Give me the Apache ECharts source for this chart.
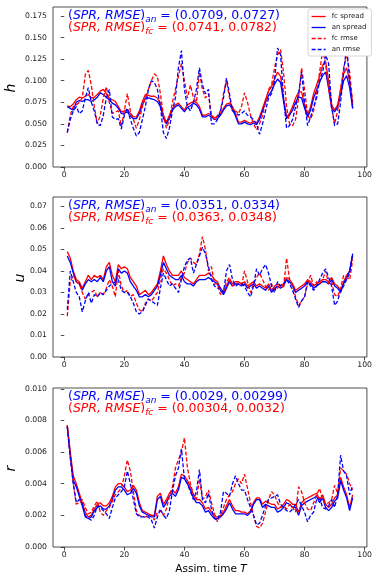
<!DOCTYPE html>
<html>
<head>
<meta charset="utf-8">
<script src="https://cdn.jsdelivr.net/npm/echarts@6/dist/echarts.min.js"></script>
<style>
  html, body { margin: 0; padding: 0; background: #fff; }
  #chart { width: 375px; height: 574px; }
</style>
</head>
<body>
<div id="chart"></div>
<script>
// Assimilation cycles 1..96
const assimTimes = Array.from({ length: 96 }, (_, i) => i + 1);

// Tick positions
const xTicks = [0, 20, 40, 60, 80, 100];
const hTicks = [0, 0.025, 0.05, 0.075, 0.1, 0.125, 0.15, 0.175];
const uTicks = [0, 0.01, 0.02, 0.03, 0.04, 0.05, 0.06, 0.07];
const rTicks = [0, 0.002, 0.004, 0.006, 0.008, 0.01];

// Time-mean (spread, rmse) for analysis and forecast
const hScoresAn = ['0.0709', '0.0727'];
const hScoresFc = ['0.0741', '0.0782'];
const uScoresAn = ['0.0351', '0.0334'];
const uScoresFc = ['0.0363', '0.0348'];
const rScoresAn = ['0.0029', '0.00299'];
const rScoresFc = ['0.00304', '0.0032'];

// ---- h ----
const hFcSpread = [
  0.071, 0.070, 0.073, 0.078, 0.081, 0.080, 0.082, 0.084, 0.080, 0.081,
  0.084, 0.088, 0.090, 0.085, 0.080, 0.078, 0.076, 0.070, 0.064, 0.065,
  0.067, 0.062, 0.058, 0.058, 0.065, 0.076, 0.084, 0.083, 0.082, 0.082,
  0.080, 0.074, 0.060, 0.052, 0.060, 0.068, 0.072, 0.074, 0.070, 0.066,
  0.072, 0.074, 0.076, 0.075, 0.070, 0.060, 0.060, 0.062, 0.060, 0.057,
  0.058, 0.062, 0.068, 0.073, 0.074, 0.070, 0.062, 0.052, 0.052, 0.054,
  0.052, 0.051, 0.053, 0.051, 0.058, 0.068, 0.078, 0.088, 0.093, 0.102,
  0.110, 0.105, 0.080, 0.058, 0.062, 0.070, 0.080, 0.087, 0.087, 0.072,
  0.060, 0.070, 0.085, 0.095, 0.105, 0.118, 0.122, 0.100, 0.072, 0.066,
  0.072, 0.090, 0.108, 0.115, 0.100, 0.072
];
const hAnSpread = [
  0.070, 0.068, 0.066, 0.075, 0.077, 0.076, 0.078, 0.078, 0.076, 0.078,
  0.081, 0.086, 0.084, 0.081, 0.078, 0.074, 0.072, 0.068, 0.062, 0.062,
  0.064, 0.059, 0.056, 0.056, 0.062, 0.072, 0.080, 0.080, 0.079, 0.078,
  0.076, 0.070, 0.057, 0.050, 0.057, 0.066, 0.070, 0.072, 0.068, 0.064,
  0.069, 0.071, 0.074, 0.072, 0.067, 0.058, 0.058, 0.060, 0.058, 0.055,
  0.056, 0.060, 0.066, 0.071, 0.072, 0.067, 0.059, 0.050, 0.050, 0.052,
  0.050, 0.049, 0.051, 0.049, 0.055, 0.065, 0.075, 0.083, 0.088, 0.096,
  0.102, 0.098, 0.076, 0.056, 0.060, 0.066, 0.075, 0.081, 0.080, 0.068,
  0.058, 0.066, 0.080, 0.089, 0.098, 0.106, 0.110, 0.092, 0.068, 0.064,
  0.069, 0.084, 0.100, 0.106, 0.092, 0.068
];
const hFcRmse = [
  0.040, 0.060, 0.070, 0.072, 0.075, 0.080, 0.107, 0.112, 0.095, 0.070,
  0.050, 0.060, 0.080, 0.093, 0.075, 0.062, 0.064, 0.065, 0.047, 0.065,
  0.085, 0.065, 0.055, 0.045, 0.055, 0.070, 0.080, 0.090, 0.100, 0.108,
  0.105, 0.085, 0.060, 0.045, 0.055, 0.075, 0.090, 0.105, 0.120, 0.100,
  0.080, 0.095, 0.080, 0.075, 0.110, 0.090, 0.080, 0.085, 0.060, 0.055,
  0.060, 0.065, 0.085, 0.100, 0.080, 0.065, 0.065, 0.062, 0.070, 0.086,
  0.075, 0.060, 0.050, 0.043, 0.050, 0.060, 0.075, 0.090, 0.095, 0.115,
  0.130, 0.136, 0.110, 0.070, 0.050, 0.048, 0.055, 0.080, 0.115, 0.090,
  0.060, 0.055, 0.065, 0.085, 0.110, 0.135, 0.120, 0.090, 0.070, 0.050,
  0.065, 0.090, 0.115, 0.130, 0.110, 0.075
];
const hAnRmse = [
  0.040, 0.055, 0.065, 0.070, 0.062, 0.065, 0.080, 0.092, 0.075, 0.065,
  0.050, 0.048, 0.060, 0.080, 0.090, 0.058, 0.055, 0.056, 0.044, 0.060,
  0.068, 0.055, 0.045, 0.036, 0.040, 0.055, 0.070, 0.090, 0.100, 0.098,
  0.090, 0.070, 0.040, 0.033, 0.045, 0.065, 0.080, 0.115, 0.135, 0.090,
  0.070, 0.065, 0.075, 0.090, 0.115, 0.095, 0.085, 0.090, 0.050, 0.050,
  0.055, 0.065, 0.080, 0.103, 0.085, 0.065, 0.063, 0.060, 0.062, 0.065,
  0.060, 0.058, 0.055, 0.050, 0.038, 0.050, 0.065, 0.080, 0.085, 0.100,
  0.138, 0.130, 0.080, 0.045, 0.048, 0.055, 0.070, 0.085, 0.110, 0.075,
  0.048, 0.058, 0.070, 0.080, 0.100, 0.110, 0.130, 0.120, 0.070, 0.048,
  0.050, 0.075, 0.110, 0.140, 0.100, 0.068
];

// ---- u ----
const uFcSpread = [
  0.049, 0.046, 0.040, 0.036, 0.035, 0.032, 0.035, 0.038, 0.036, 0.038,
  0.037, 0.038, 0.036, 0.042, 0.044, 0.038, 0.035, 0.043, 0.041, 0.042,
  0.041, 0.037, 0.035, 0.033, 0.029, 0.030, 0.031, 0.029, 0.030, 0.032,
  0.034, 0.040, 0.047, 0.043, 0.040, 0.038, 0.038, 0.038, 0.040, 0.037,
  0.036, 0.035, 0.034, 0.036, 0.038, 0.038, 0.038, 0.039, 0.038, 0.036,
  0.035, 0.032, 0.030, 0.033, 0.036, 0.034, 0.035, 0.035, 0.034, 0.035,
  0.033, 0.034, 0.035, 0.033, 0.034, 0.033, 0.032, 0.034, 0.031, 0.033,
  0.034, 0.033, 0.034, 0.037, 0.036, 0.034, 0.031, 0.032, 0.033, 0.034,
  0.036, 0.035, 0.033, 0.034, 0.035, 0.036, 0.036, 0.035, 0.037, 0.034,
  0.033, 0.031, 0.035, 0.038, 0.040, 0.047
];
const uAnSpread = [
  0.047, 0.044, 0.039, 0.035, 0.034, 0.031, 0.034, 0.036, 0.035, 0.036,
  0.035, 0.037, 0.035, 0.040, 0.042, 0.035, 0.033, 0.041, 0.039, 0.040,
  0.039, 0.035, 0.033, 0.031, 0.028, 0.028, 0.029, 0.028, 0.029, 0.031,
  0.033, 0.038, 0.044, 0.041, 0.038, 0.037, 0.036, 0.036, 0.038, 0.035,
  0.034, 0.034, 0.033, 0.035, 0.036, 0.036, 0.036, 0.037, 0.036, 0.035,
  0.034, 0.031, 0.029, 0.032, 0.035, 0.033, 0.034, 0.034, 0.033, 0.034,
  0.032, 0.033, 0.034, 0.032, 0.033, 0.032, 0.031, 0.033, 0.030, 0.032,
  0.033, 0.032, 0.033, 0.036, 0.035, 0.033, 0.030, 0.031, 0.032, 0.033,
  0.035, 0.034, 0.032, 0.033, 0.034, 0.035, 0.035, 0.034, 0.036, 0.033,
  0.032, 0.030, 0.034, 0.037, 0.040, 0.048
];
const uFcRmse = [
  0.019, 0.035, 0.038, 0.035, 0.034, 0.030, 0.027, 0.029, 0.030, 0.031,
  0.028, 0.030, 0.029, 0.032, 0.036, 0.033, 0.028, 0.040, 0.033, 0.030,
  0.031, 0.028, 0.029, 0.025, 0.022, 0.021, 0.025, 0.027, 0.026, 0.028,
  0.030, 0.036, 0.041, 0.039, 0.036, 0.033, 0.034, 0.033, 0.037, 0.039,
  0.044, 0.046, 0.044, 0.043, 0.048, 0.056, 0.050, 0.040, 0.042, 0.034,
  0.034, 0.029, 0.031, 0.035, 0.037, 0.033, 0.034, 0.034, 0.033, 0.040,
  0.035, 0.030, 0.034, 0.037, 0.039, 0.036, 0.033, 0.031, 0.034, 0.031,
  0.032, 0.034, 0.032, 0.046, 0.036, 0.033, 0.028, 0.024, 0.026, 0.028,
  0.034, 0.038, 0.033, 0.035, 0.034, 0.036, 0.040, 0.034, 0.035, 0.029,
  0.028, 0.032, 0.038, 0.037, 0.036, 0.045
];
const uAnRmse = [
  0.022, 0.040, 0.035, 0.030, 0.028, 0.021, 0.026, 0.030, 0.025, 0.029,
  0.028, 0.030, 0.029, 0.031, 0.033, 0.034, 0.035, 0.036, 0.031, 0.030,
  0.030, 0.028, 0.025, 0.021, 0.020, 0.021, 0.024, 0.027, 0.026, 0.025,
  0.024, 0.032, 0.039, 0.036, 0.033, 0.034, 0.032, 0.030, 0.036, 0.042,
  0.045, 0.046, 0.039, 0.043, 0.047, 0.051, 0.048, 0.042, 0.036, 0.033,
  0.032, 0.032, 0.030, 0.040, 0.043, 0.036, 0.033, 0.034, 0.034, 0.033,
  0.030, 0.028, 0.033, 0.041, 0.038, 0.041, 0.043, 0.039, 0.033, 0.030,
  0.035, 0.033, 0.034, 0.036, 0.034, 0.031, 0.027, 0.023, 0.026, 0.028,
  0.035, 0.033, 0.031, 0.033, 0.036, 0.039, 0.041, 0.037, 0.033, 0.024,
  0.026, 0.031, 0.033, 0.036, 0.039, 0.048
];

// ---- r ----
const rFcSpread = [
  0.0077, 0.0060, 0.0045, 0.0040, 0.0034, 0.0028, 0.0022, 0.0019, 0.0020, 0.0024,
  0.0027, 0.0028, 0.0026, 0.0026, 0.0028, 0.0032, 0.0038, 0.0040, 0.0040, 0.0038,
  0.0035, 0.0036, 0.0039, 0.0036, 0.0028, 0.0023, 0.0022, 0.0021, 0.0020, 0.0020,
  0.0032, 0.0034, 0.0027, 0.0030, 0.0034, 0.0036, 0.0034, 0.0038, 0.0046, 0.0045,
  0.0042, 0.0038, 0.0033, 0.0030, 0.0030, 0.0028, 0.0024, 0.0025, 0.0022, 0.0019,
  0.0019, 0.0020, 0.0022, 0.0026, 0.0030, 0.0026, 0.0023, 0.0023, 0.0022, 0.0022,
  0.0021, 0.0023, 0.0028, 0.0031, 0.0031, 0.0027, 0.0029, 0.0028, 0.0027, 0.0027,
  0.0024, 0.0025, 0.0027, 0.0030, 0.0029, 0.0027, 0.0027, 0.0022, 0.0028, 0.0030,
  0.0031, 0.0032, 0.0033, 0.0034, 0.0030, 0.0033, 0.0027, 0.0025, 0.0027, 0.0031,
  0.0033, 0.0044, 0.0038, 0.0033, 0.0025, 0.0033
];
const rAnSpread = [
  0.0076, 0.0058, 0.0042, 0.0038, 0.0032, 0.0026, 0.0019, 0.0018, 0.0019, 0.0023,
  0.0025, 0.0026, 0.0024, 0.0024, 0.0026, 0.0030, 0.0036, 0.0038, 0.0038, 0.0036,
  0.0033, 0.0034, 0.0037, 0.0034, 0.0026, 0.0022, 0.0021, 0.0020, 0.0019, 0.0019,
  0.0030, 0.0032, 0.0025, 0.0028, 0.0032, 0.0034, 0.0032, 0.0036, 0.0044, 0.0043,
  0.0040, 0.0036, 0.0031, 0.0028, 0.0028, 0.0026, 0.0022, 0.0023, 0.0020, 0.0018,
  0.0018, 0.0019, 0.0021, 0.0024, 0.0028, 0.0024, 0.0021, 0.0021, 0.0021, 0.0021,
  0.0020, 0.0022, 0.0027, 0.0030, 0.0030, 0.0025, 0.0027, 0.0026, 0.0025, 0.0025,
  0.0022, 0.0023, 0.0025, 0.0028, 0.0027, 0.0025, 0.0025, 0.0020, 0.0026, 0.0028,
  0.0029, 0.0030, 0.0031, 0.0032, 0.0028, 0.0031, 0.0025, 0.0023, 0.0025, 0.0029,
  0.0031, 0.0042, 0.0036, 0.0031, 0.0023, 0.0031
];
const rFcRmse = [
  0.0077, 0.0058, 0.0040, 0.0027, 0.0028, 0.0030, 0.0025, 0.0021, 0.0022, 0.0026,
  0.0029, 0.0022, 0.0020, 0.0023, 0.0025, 0.0029, 0.0033, 0.0035, 0.0037, 0.0045,
  0.0055, 0.0048, 0.0035, 0.0023, 0.0020, 0.0019, 0.0019, 0.0020, 0.0020, 0.0017,
  0.0022, 0.0023, 0.0020, 0.0024, 0.0032, 0.0038, 0.0050, 0.0055, 0.0060, 0.0069,
  0.0050, 0.0040, 0.0033, 0.0030, 0.0043, 0.0030, 0.0032, 0.0036, 0.0028, 0.0021,
  0.0016, 0.0020, 0.0025, 0.0030, 0.0033, 0.0035, 0.0040, 0.0043, 0.0040, 0.0046,
  0.0037, 0.0028, 0.0020, 0.0013, 0.0012, 0.0015, 0.0022, 0.0030, 0.0035, 0.0033,
  0.0028, 0.0025, 0.0026, 0.0024, 0.0027, 0.0025, 0.0022, 0.0038, 0.0035, 0.0028,
  0.0024, 0.0023, 0.0028, 0.0033, 0.0037, 0.0030, 0.0027, 0.0028, 0.0030, 0.0039,
  0.0034, 0.0050, 0.0048, 0.0046, 0.0040, 0.0036
];
const rAnRmse = [
  0.0076, 0.0056, 0.0040, 0.0028, 0.0030, 0.0027, 0.0020, 0.0018, 0.0017, 0.0020,
  0.0026, 0.0025, 0.0023, 0.0021, 0.0018, 0.0025, 0.0031, 0.0033, 0.0035, 0.0038,
  0.0048, 0.0040, 0.0030, 0.0021, 0.0019, 0.0019, 0.0019, 0.0019, 0.0017, 0.0012,
  0.0019, 0.0024, 0.0020, 0.0018, 0.0023, 0.0035, 0.0045, 0.0050, 0.0062, 0.0043,
  0.0040, 0.0035, 0.0030, 0.0035, 0.0049, 0.0030, 0.0028, 0.0034, 0.0024, 0.0018,
  0.0017, 0.0022, 0.0035, 0.0034, 0.0032, 0.0040, 0.0045, 0.0040, 0.0036, 0.0036,
  0.0030, 0.0025, 0.0020, 0.0014, 0.0015, 0.0020, 0.0026, 0.0030, 0.0031, 0.0032,
  0.0033, 0.0027, 0.0025, 0.0023, 0.0022, 0.0024, 0.0027, 0.0030, 0.0026, 0.0022,
  0.0016, 0.0020, 0.0022, 0.0030, 0.0031, 0.0025, 0.0024, 0.0026, 0.0030, 0.0025,
  0.0033, 0.0058, 0.0048, 0.0045, 0.0033, 0.0039
];

const FONT = 'DejaVu Sans';
const RED = '#ff0000';
const BLUE = '#0000ff';

const panels = [
  { label: 'h', top: 7, height: 160, yMax: 0.1855, ticks: hTicks, digits: 3,
    an: hScoresAn, fc: hScoresFc, labelX: 11.5,
    data: [hFcSpread, hAnSpread, hFcRmse, hAnRmse] },
  { label: 'u', top: 197, height: 160, yMax: 0.0744, ticks: uTicks, digits: 2,
    an: uScoresAn, fc: uScoresFc, labelX: 20,
    data: [uFcSpread, uAnSpread, uFcRmse, uAnRmse] },
  { label: 'r', top: 388, height: 159, yMax: 0.01005, ticks: rTicks, digits: 3,
    an: rScoresAn, fc: rScoresFc, labelX: 11,
    data: [rFcSpread, rAnSpread, rFcRmse, rAnRmse] }
];

const seriesDefs = [
  { name: 'fc spread', color: RED, type: 'solid' },
  { name: 'an spread', color: BLUE, type: 'solid' },
  { name: 'fc rmse', color: RED, type: [4, 2] },
  { name: 'an rmse', color: BLUE, type: [4, 2] }
];

const grids = [], xAxes = [], yAxes = [], series = [], graphics = [];

const scoreRich = {
  n: { fontFamily: FONT, fontSize: 12.5 },
  i: { fontFamily: FONT, fontSize: 12.5, fontStyle: 'italic' },
  s: { fontFamily: FONT, fontSize: 9, fontStyle: 'italic', padding: [8, 0, 0, 0] }
};

panels.forEach((p, gi) => {
  grids.push({
    left: 53, top: p.top, width: 317, height: p.height,
    show: true, borderColor: '#222', borderWidth: 0.8, backgroundColor: '#fff'
  });
  xAxes.push({
    gridIndex: gi, type: 'value', min: -3.75, max: 100.75,
    axisLine: { show: false },
    splitLine: { show: false },
    axisTick: { show: true, inside: false, length: 3.5, customValues: xTicks,
      lineStyle: { color: '#222', width: 0.8 } },
    axisLabel: { customValues: xTicks, fontFamily: FONT, fontSize: 7.7, color: '#222', margin: 4 }
  });
  yAxes.push({
    gridIndex: gi, type: 'value', min: 0, max: p.yMax,
    axisLine: { show: false },
    splitLine: { show: false },
    axisTick: { show: true, inside: false, length: 3.5, customValues: p.ticks,
      lineStyle: { color: '#222', width: 0.8 } },
    axisLabel: { customValues: p.ticks, fontFamily: FONT, fontSize: 7.7, color: '#222', margin: 6,
      formatter: v => Number(v).toFixed(p.digits) }
  });
  seriesDefs.forEach((s, k) => {
    series.push({
      name: s.name, type: 'line', xAxisIndex: gi, yAxisIndex: gi,
      data: assimTimes.map((t, j) => [t, p.data[k][j]]),
      symbol: 'none', silent: true,
      color: s.color,
      lineStyle: { color: s.color, width: 1.3, type: s.type },
      z: 2 + k
    });
  });
  // scores annotation
  graphics.push({
    type: 'text', x: 68, y: p.top + 9, z: 50,
    style: {
      text: '{n|(}{i|SPR, RMSE}{n|)}{s|an}{n| = (' + p.an[0] + ', ' + p.an[1] + ')}',
      rich: scoreRich, fill: BLUE, verticalAlign: 'middle'
    }
  });
  graphics.push({
    type: 'text', x: 68, y: p.top + 21, z: 50,
    style: {
      text: '{n|(}{i|SPR, RMSE}{n|)}{s|fc}{n| = (' + p.fc[0] + ', ' + p.fc[1] + ')}',
      rich: scoreRich, fill: RED, verticalAlign: 'middle'
    }
  });
  // y-axis variable name
  graphics.push({
    type: 'text', x: p.labelX, y: p.top + p.height / 2 + 1, rotation: Math.PI / 2,
    style: { text: p.label, fontFamily: FONT, fontSize: 14, fontStyle: 'italic',
      fill: '#000', align: 'center', verticalAlign: 'middle' }
  });
});

// x-axis title under the last panel
graphics.push({
  type: 'text', x: 211, y: 569,
  style: {
    text: '{n|Assim. time }{i|T}',
    rich: {
      n: { fontFamily: FONT, fontSize: 10.5 },
      i: { fontFamily: FONT, fontSize: 10.5, fontStyle: 'italic' }
    },
    fill: '#000', align: 'center', verticalAlign: 'middle'
  }
});

const chart = echarts.init(document.getElementById('chart'), null, { renderer: 'canvas' });
chart.setOption({
  animation: false,
  backgroundColor: '#fff',
  grid: grids,
  xAxis: xAxes,
  yAxis: yAxes,
  legend: {
    data: seriesDefs.map(s => s.name),
    orient: 'vertical', left: 308, top: 9,
    itemWidth: 14, itemHeight: 7, itemGap: 4,
    padding: [4, 5, 3, 3],
    itemStyle: { opacity: 0 },
    lineStyle: { width: 1.3 },
    backgroundColor: '#fff', borderColor: '#ccc', borderWidth: 0.8, borderRadius: 2,
    textStyle: { fontFamily: FONT, fontSize: 7, color: '#222', padding: [0, 0, 0, 1] },
    selectedMode: false, z: 60
  },
  series: series,
  graphic: graphics
});
</script>
</body>
</html>
